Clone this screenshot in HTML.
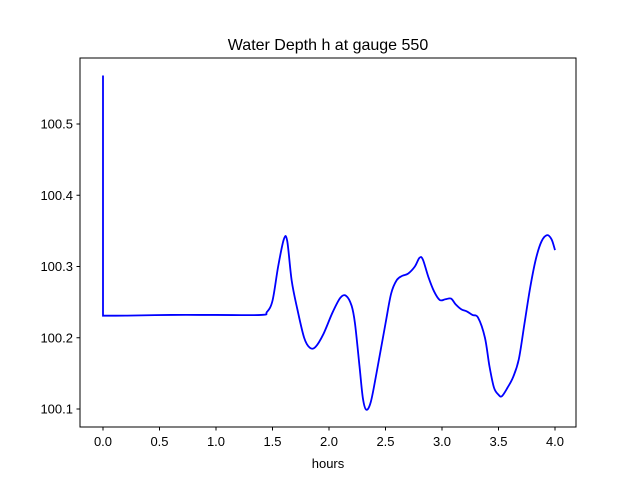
<!DOCTYPE html>
<html><head><meta charset="utf-8"><style>
body{margin:0;background:#fff}
svg{display:block;font-family:"Liberation Sans","DejaVu Sans",sans-serif}
</style></head><body>
<svg id="chart" width="640" height="480" xmlns="http://www.w3.org/2000/svg">
<rect width="640" height="480" fill="#fff"/>
<text x="328" y="50" font-size="16" text-anchor="middle">Water Depth h at gauge 550</text>
<g id="ticks"></g>
<path id="line" fill="none" stroke="#0000ff" stroke-width="1.8"/>
<rect x="80" y="58" width="496" height="369" fill="none" stroke="#000" stroke-width="1"/>
<text x="328" y="468" font-size="13" text-anchor="middle">hours</text>
</svg>
<script>
const xTicks=[0,0.5,1,1.5,2,2.5,3,3.5,4];
const xTickLabels=["0.0","0.5","1.0","1.5","2.0","2.5","3.0","3.5","4.0"];
const yTicks=[100.1,100.2,100.3,100.4,100.5];
const yTickLabels=["100.1","100.2","100.3","100.4","100.5"];
const hours=[0,0,0.2,0.6,1.0,1.4,1.45,1.5,1.55,1.6,1.63,1.67,1.72,1.78,1.83,1.88,1.95,2.03,2.1,2.15,2.2,2.23,2.27,2.3,2.33,2.37,2.42,2.5,2.55,2.6,2.65,2.7,2.76,2.8,2.83,2.88,2.93,2.98,3.03,3.08,3.12,3.17,3.22,3.27,3.32,3.38,3.42,3.46,3.5,3.53,3.58,3.63,3.68,3.73,3.78,3.83,3.88,3.93,3.97,4.0];
const depth=[100.568,100.231,100.231,100.232,100.232,100.232,100.236,100.252,100.30,100.338,100.336,100.28,100.24,100.20,100.186,100.187,100.205,100.235,100.256,100.259,100.245,100.22,100.16,100.115,100.099,100.11,100.15,100.22,100.262,100.281,100.287,100.29,100.30,100.312,100.31,100.285,100.265,100.253,100.254,100.255,100.247,100.24,100.237,100.232,100.228,100.2,100.16,100.13,100.12,100.118,100.13,100.145,100.17,100.22,100.27,100.31,100.335,100.344,100.338,100.323];
const X=v=>103+v*113, Y=v=>409-(v-100.1)*712.5;
const NS="http://www.w3.org/2000/svg";
const g=document.getElementById('ticks');
function mk(t,a){const e=document.createElementNS(NS,t);for(const k in a)e.setAttribute(k,a[k]);return e;}
xTicks.forEach((v,i)=>{
 const l=mk('line',{x1:X(v),x2:X(v),y1:427,y2:430.5,stroke:'#000'});
 
 
 g.appendChild(l);
 const t=mk('text',{x:X(v),y:446,'font-size':13,'text-anchor':'middle'});
 t.textContent=xTickLabels[i];
 
 
 g.appendChild(t);
});
yTicks.forEach((v,i)=>{
 const l=mk('line',{x1:76.5,x2:80,y1:Y(v),y2:Y(v),stroke:'#000'});
 
 
 g.appendChild(l);
 const t=mk('text',{x:73,y:Y(v)+4.5,'font-size':13,'text-anchor':'end'});
 t.textContent=yTickLabels[i];
 
 
 g.appendChild(t);
});
let pts=hours.map((h,i)=>[X(h),Y(depth[i])]);
let d='M'+pts[0][0]+','+pts[0][1]+' L'+pts[1][0]+','+pts[1][1];
for(let i=1;i<pts.length-1;i++){
 const p0=pts[Math.max(1,i-1)],p1=pts[i],p2=pts[i+1],p3=pts[Math.min(pts.length-1,i+2)];
 d+=` C${p1[0]+(p2[0]-p0[0])/6},${p1[1]+(p2[1]-p0[1])/6} ${p2[0]-(p3[0]-p1[0])/6},${p2[1]-(p3[1]-p1[1])/6} ${p2[0]},${p2[1]}`;
}
document.getElementById('line').setAttribute('d',d);
</script>
</body></html>
